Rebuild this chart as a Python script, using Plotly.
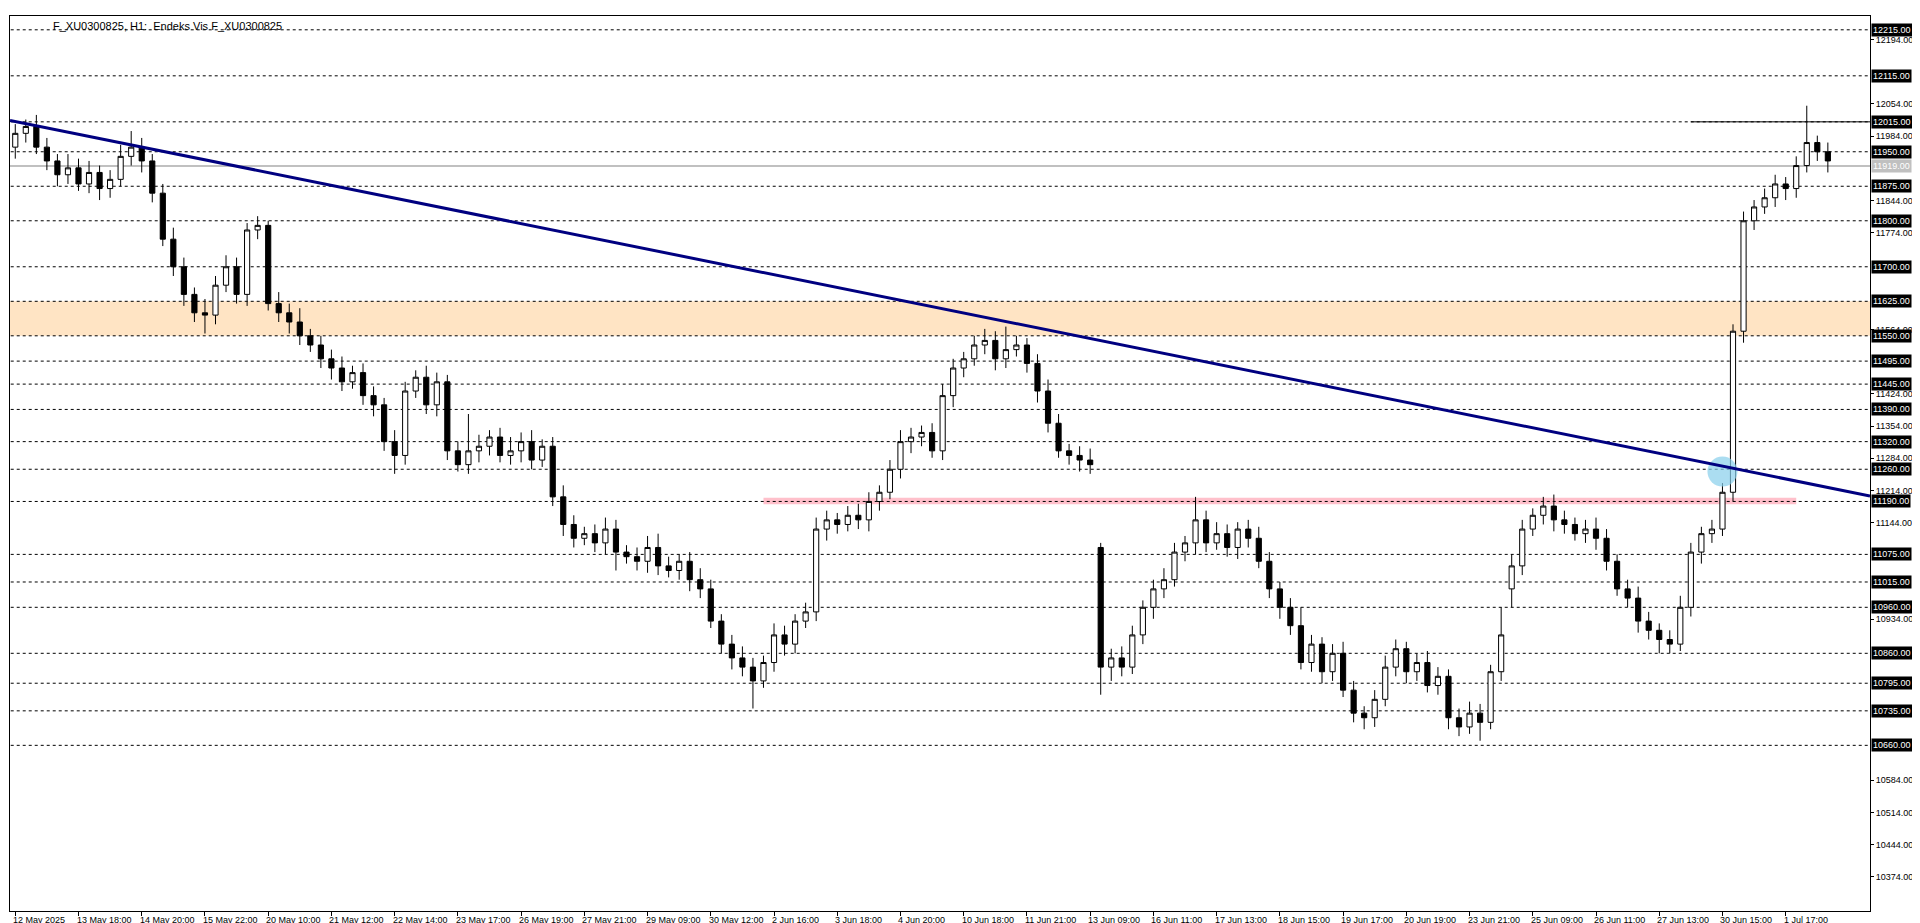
import plotly.graph_objects as go

closes = [11990, 12005, 11960,
 11930, 11900, 11915, 11880, 11905, 11870, 11890,
 11940, 11960, 11930,
 11860, 11760, 11700,
 11640, 11600, 11595,
 11660, 11700, 11640,
 11780, 11790,
 11620, 11600, 11580,
 11550, 11530, 11500,
 11480, 11450, 11470, 11420,
 11400, 11320, 11290,
 11430, 11460, 11400, 11450,
 11300, 11270, 11300,
 11310, 11330, 11290, 11300, 11320, 11280, 11310,
 11200, 11140, 11110,
 11120, 11100, 11130, 11080, 11070,
 11060, 11090, 11050, 11040, 11060, 11020, 11000,
 10930, 10880, 10850, 10830,
 10800, 10840,
 10900, 10880, 10930, 10950,
 11130, 11150, 11140, 11160, 11150,
 11190, 11210, 11260,
 11320, 11330, 11340, 11300,
 11420, 11480, 11500, 11530,
 11540, 11500, 11520, 11530,
 11490, 11430, 11360,
 11300, 11290, 11280, 11270,
 10830,
 10850, 10830, 10900, 10960, 11000,
 11020, 11080, 11100, 11150,
 11100, 11120, 11090, 11130, 11110, 11060,
 11000, 10960, 10920,
 10840, 10880, 10820, 10860,
 10780, 10730, 10720, 10760,
 10830, 10870, 10820, 10840, 10790, 10810,
 10720, 10700, 10730, 10710,
 10820, 10900,
 11050, 11130, 11160, 11180,
 11150, 11140, 11120, 11130, 11110,
 11060, 11000, 10980, 10930,
 10910, 10890, 10880,
 10960, 11080, 11120,
 11130, 11210,
 11560,
 11800, 11830,
 11850, 11880, 11870,
 11920, 11970,
 11950, 11930]
first_open = 11960
gap_opens = {103: 11090, 142: 11000}

wick_up = [20, 15, 25, 20, 15, 30, 20, 25, 15, 20,
           25, 35, 20, 15, 20, 25, 20, 15, 30, 20,
           25, 20, 15, 20, 10, 25, 20, 30, 15, 20,
           20, 25, 15, 20, 20, 15, 25, 20, 15, 25,
           20, 15, 20, 80, 25, 15, 20, 30, 20, 25,
           15, 20, 25, 20, 15, 20, 25, 20, 15, 20,
           25, 30, 20, 15, 20, 25, 20, 15, 20, 25,
           20, 15, 25, 20, 15, 20, 25, 20, 15, 20,
           25, 20, 15, 20, 25, 20, 15, 20, 25, 20,
           15, 20, 25, 20, 50, 20, 15, 20, 25, 20,
           15, 20, 25, 10, 20, 25, 20, 15, 20, 25,
           20, 15, 50, 20, 25, 20, 15, 20, 25, 20,
           15, 20, 40, 20, 15, 20, 25, 20, 15, 20,
           25, 20, 15, 20, 25, 20, 15, 20, 25, 20,
           15, 60, 25, 20, 15, 20, 25, 20, 15, 20,
           25, 20, 15, 20, 25, 20, 15, 20, 25, 20,
           15, 20, 20, 15, 20, 15, 20, 20, 15, 20,
           80, 15, 20]
wick_dn = [25, 20, 15, 20, 25, 20, 15, 20, 25, 20,
           15, 20, 25, 20, 15, 20, 25, 20, 40, 20,
           15, 20, 25, 20, 15, 20, 25, 20, 15, 20,
           25, 20, 15, 20, 25, 20, 40, 20, 15, 20,
           25, 20, 15, 20, 25, 20, 15, 20, 25, 20,
           15, 20, 25, 20, 15, 20, 25, 40, 15, 20,
           25, 20, 15, 20, 25, 20, 15, 20, 25, 20,
           60, 15, 20, 25, 20, 15, 20, 25, 20, 15,
           20, 25, 20, 15, 20, 25, 20, 15, 20, 25,
           20, 15, 20, 25, 20, 15, 20, 25, 20, 15,
           20, 25, 20, 60, 30, 20, 15, 20, 25, 20,
           15, 20, 25, 20, 15, 20, 25, 20, 15, 20,
           25, 20, 15, 20, 25, 20, 15, 20, 25, 20,
           15, 20, 25, 20, 15, 20, 25, 20, 15, 40,
           15, 20, 40, 20, 15, 20, 25, 20, 15, 20,
           25, 20, 15, 20, 25, 20, 30, 20, 15, 20,
           25, 20, 15, 20, 25, 20, 15, 20, 25, 20,
           15, 20, 25]

tick_labels = ["12 May 2025", "13 May 18:00", "14 May 20:00", "15 May 22:00", "20 May 10:00",
 "21 May 12:00", "22 May 14:00", "23 May 17:00", "26 May 19:00", "27 May 21:00",
 "29 May 09:00", "30 May 12:00", "2 Jun 16:00", "3 Jun 18:00", "4 Jun 20:00",
 "10 Jun 18:00", "11 Jun 21:00", "13 Jun 09:00", "16 Jun 11:00", "17 Jun 13:00",
 "18 Jun 15:00", "19 Jun 17:00", "20 Jun 19:00", "23 Jun 21:00", "25 Jun 09:00",
 "26 Jun 11:00", "27 Jun 13:00", "30 Jun 15:00", "1 Jul 17:00"]
tick_pos = [i * 6 for i in range(len(tick_labels))]

level_lines = [12215, 12115, 12015, 11950, 11875, 11800, 11700, 11625, 11550, 11495, 11445,
               11390, 11320, 11260, 11190, 11075, 11015, 10960, 10860, 10795, 10735, 10660]
axis_ticks = [12194, 12054, 11984, 11844, 11774, 11564, 11424, 11354, 11284, 11214, 11144,
              10934, 10584, 10514, 10444, 10374]
current_price = 11919
zone_low, zone_high = 11550, 11625
trend_start, trend_end = 12018, 11202
breakout_price = 11255

n = len(closes)
idx = list(range(n))
opens = [first_open] + closes[:-1]
for k, v in gap_opens.items():
    opens[k] = v
highs = [max(o, c) + w for o, c, w in zip(opens, closes, wick_up[:n])]
lows = [min(o, c) - w for o, c, w in zip(opens, closes, wick_dn[:n])]

FONT = "Liberation Sans"
fig = go.Figure()
xmax = 176
fig.add_shape(type="rect", x0=-1, x1=xmax, y0=zone_low, y1=zone_high, fillcolor="#FFE4C4",
              line_width=0, layer="below")
fig.add_shape(type="rect", x0=71, x1=169, y0=11184, y1=11198, fillcolor="#FFC0CB",
              line_width=0, layer="below")
for lv in level_lines:
    fig.add_shape(type="line", x0=-1, x1=xmax, y0=lv, y1=lv,
                  line=dict(color="black", width=1, dash="3px,3px"), layer="below")
fig.add_shape(type="line", x0=-1, x1=xmax, y0=current_price, y1=current_price,
              line=dict(color="#C0C0C0", width=2), layer="below")
fig.add_shape(type="line", x0=159, x1=xmax, y0=12015, y1=12015,
              line=dict(color="black", width=1))

fig.add_trace(go.Candlestick(x=idx, open=opens, high=highs, low=lows, close=closes,
    increasing=dict(fillcolor="white", line=dict(color="black", width=1)),
    decreasing=dict(fillcolor="black", line=dict(color="black", width=1)),
    whiskerwidth=0, showlegend=False))

fig.add_shape(type="line", x0=-0.5, x1=xmax, y0=trend_start, y1=trend_end,
              line=dict(color="#000080", width=3))
fig.add_trace(go.Scatter(x=[162], y=[breakout_price], mode="markers",
    marker=dict(size=30, color="rgba(135,206,235,0.7)", line_width=0), showlegend=False))

annos = []
for lv in level_lines:
    annos.append(dict(x=1, xref="paper", y=lv, yref="y", xanchor="left", yanchor="middle",
        text=f"{lv:.2f}", showarrow=False, bgcolor="black", xshift=1,
        font=dict(color="white", size=9, family=FONT), borderpad=1))
annos.append(dict(x=1, xref="paper", y=current_price, yref="y", xanchor="left", yanchor="middle",
    text=f"{current_price:.2f}", showarrow=False, bgcolor="#C0C0C0", xshift=1,
    font=dict(color="white", size=9, family=FONT), borderpad=1))
for p, t in zip(tick_pos, tick_labels):
    annos.append(dict(x=p, xref="x", y=0, yref="paper", xanchor="left", yanchor="top",
        text=t, showarrow=False, xshift=-4, yshift=-2,
        font=dict(color="black", size=9, family=FONT)))
annos.append(dict(x=0.022, xref="paper", y=1, yref="paper", xanchor="left", yanchor="top",
    text="F_XU0300825, H1:  Endeks Vis F_XU0300825", showarrow=False, yshift=-2,
    font=dict(color="black", size=11, family=FONT)))

fig.update_layout(width=1920, height=923, margin=dict(l=2, r=58, t=8, b=20),
    paper_bgcolor="white", plot_bgcolor="white", annotations=annos,
    xaxis=dict(range=[-0.5, xmax], rangeslider=dict(visible=False), showgrid=False,
               tickmode="array", tickvals=tick_pos, showticklabels=False,
               ticks="outside", ticklen=4, tickcolor="black", automargin=False,
               showline=True, linecolor="black", mirror=True, zeroline=False),
    yaxis=dict(range=[10300, 12245], side="right", showgrid=False, tickmode="array",
               tickvals=axis_ticks, ticktext=[f"{v:.2f}" for v in axis_ticks],
               ticks="outside", ticklen=3, tickcolor="black", showline=True,
               linecolor="black", mirror=True, zeroline=False, automargin=False,
               tickfont=dict(size=9, family=FONT, color="black")))

fig.write_html("out.html")
